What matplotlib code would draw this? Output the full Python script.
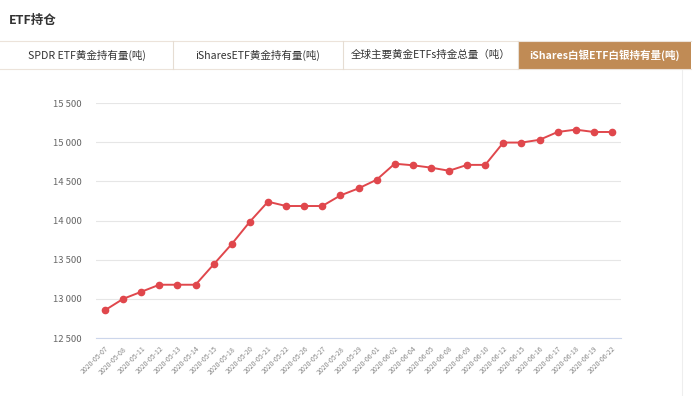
import matplotlib
matplotlib.use("Agg")
import matplotlib.pyplot as plt
from matplotlib.patches import Rectangle
from matplotlib.lines import Line2D

plt.rcParams['font.family'] = ['Noto Sans CJK SC', 'DejaVu Sans']

dates = ["2020-05-07", "2020-05-08", "2020-05-11", "2020-05-12", "2020-05-13",
         "2020-05-14", "2020-05-15", "2020-05-18", "2020-05-20", "2020-05-21",
         "2020-05-22", "2020-05-26", "2020-05-27", "2020-05-28", "2020-05-29",
         "2020-06-01", "2020-06-02", "2020-06-04", "2020-06-05", "2020-06-08",
         "2020-06-09", "2020-06-10", "2020-06-12", "2020-06-15", "2020-06-16",
         "2020-06-17", "2020-06-18", "2020-06-19", "2020-06-22"]
holdings = [12855, 13000, 13090, 13180, 13180, 13180, 13440, 13700, 13985, 14240,
            14185, 14185, 14185, 14320, 14410, 14520, 14725, 14705, 14675, 14635,
            14710, 14710, 14995, 14995, 15030, 15130, 15160, 15130, 15130]
yticks = [12500, 13000, 13500, 14000, 14500, 15000, 15500]
tabs = ["SPDR ETF黄金持有量(吨)", "iSharesETF黄金持有量(吨)",
        "全球主要黄金ETFs持金总量（吨）", "iShares白银ETF白银持有量(吨)"]

W, H = 693, 396
fig = plt.figure(figsize=(W / 100, H / 100), dpi=100)
fig.patch.set_facecolor("white")

def fx(px):
    return px / W

def fy(py):
    return 1 - py / H

# title
fig.text(fx(9), fy(20), "ETF持仓", fontsize=9, fontweight="bold", color="#333333",
         va="center", ha="left")

# tabs
edges = [0, 173, 343, 518, 691]
top, bot = 41, 69
fig.add_artist(Line2D([fx(0), fx(691)], [fy(top), fy(top)], color="#ece3da", lw=0.8))
fig.add_artist(Line2D([fx(0), fx(691)], [fy(bot), fy(bot)], color="#ece3da", lw=0.8))
for i, name in enumerate(tabs):
    x0, x1 = edges[i], edges[i + 1]
    if i == len(tabs) - 1:
        fig.add_artist(Rectangle((fx(x0), fy(bot)), fx(x1 - x0), (bot - top) / H,
                                 facecolor="#c08b55", edgecolor="none"))
        fig.text(fx((x0 + x1) / 2), fy((top + bot) / 2), name, fontsize=7.6,
                 fontweight="bold", color="white", ha="center", va="center")
    else:
        fig.add_artist(Line2D([fx(x1), fx(x1)], [fy(top), fy(bot)], color="#e6ddd3", lw=0.8))
        fig.text(fx((x0 + x1) / 2), fy((top + bot) / 2), name, fontsize=7.6,
                 color="#333333", ha="center", va="center")

# panel right border
fig.add_artist(Line2D([fx(682), fx(682)], [fy(70), fy(396)], color="#eeeeee", lw=0.8))

ax = fig.add_axes([fx(96), fy(338), fx(621 - 96), (338 - 103) / H])
x = list(range(len(dates)))
ax.plot(x, holdings, color="#e0474c", lw=1.4, marker="o", markersize=4.5,
        markeredgecolor="#e0474c", zorder=3)
ax.set_xlim(-0.5, len(dates) - 0.5)
ax.set_ylim(12500, 15500)
ax.set_yticks(yticks)
ax.set_yticklabels([f"{v:,}".replace(",", " ") for v in yticks])
ax.grid(axis="y", color="#e6e6e6", lw=0.8)
ax.set_axisbelow(True)
for s in ["top", "right", "left"]:
    ax.spines[s].set_visible(False)
ax.spines["bottom"].set_color("#ccd6eb")
ax.spines["bottom"].set_linewidth(0.8)
ax.set_xticks(x)
ax.set_xticklabels(dates, rotation=45, ha="right", rotation_mode="anchor")
ax.tick_params(axis="x", length=0, labelsize=5, labelcolor="#888888", pad=5)
ax.tick_params(axis="y", length=0, labelsize=6.8, labelcolor="#666666", pad=10)

fig.savefig("out.png", dpi=100, facecolor="white")
